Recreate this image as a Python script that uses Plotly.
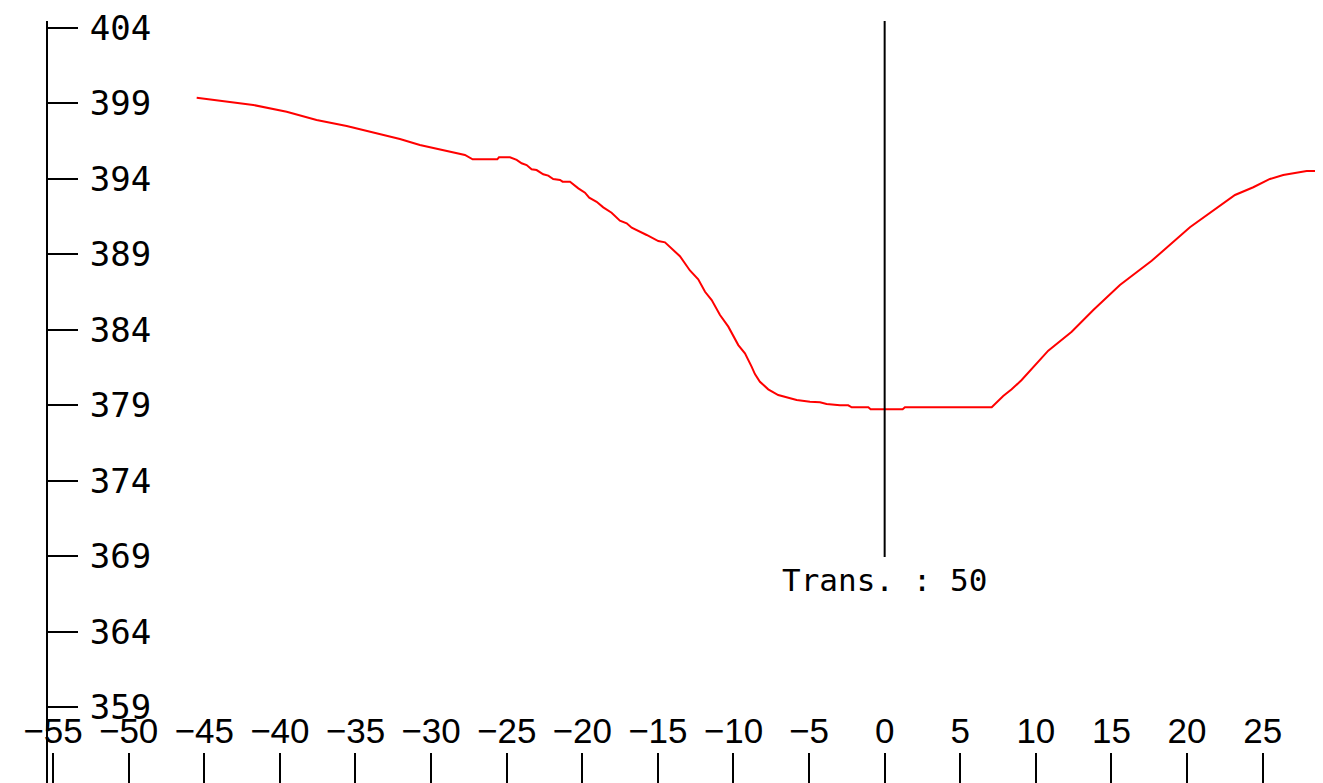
import plotly.graph_objects as go

# Profile data (offset vs elevation)
offsets = [-45.50, -41.76, -39.55, -37.57, -35.58, -33.38, -32.06, -30.74, -29.42, -28.53,
           -27.76, -27.25, -25.62, -25.51, -24.78, -24.34, -24.01, -23.68, -23.35, -23.02,
           -22.58, -22.25, -21.92, -21.47, -21.30, -20.81, -20.60, -20.26, -19.82, -19.54,
           -19.05, -18.61, -18.06, -17.51, -17.06, -16.73, -15.74, -14.97, -14.53, -14.20,
           -13.54, -12.88, -12.33, -11.88, -11.44, -10.89, -10.34, -9.68, -9.24, -8.80,
           -8.58, -8.25, -7.70, -7.04, -6.48, -5.82, -4.94, -4.28, -3.84, -2.96,
           -2.41, -2.18, -1.08, -0.93, 1.19, 1.34, 7.08, 7.84, 8.40, 9.06,
           10.82, 12.37, 13.80, 15.56, 17.66, 20.19, 23.17, 24.38, 25.48, 26.36,
           27.91, 30.00]
elevations = [399.37, 398.89, 398.44, 397.89, 397.50, 396.95, 396.64, 396.24, 395.95, 395.73,
              395.58, 395.29, 395.29, 395.42, 395.42, 395.25, 395.03, 394.91, 394.63, 394.58,
              394.30, 394.21, 393.99, 393.92, 393.81, 393.81, 393.64, 393.37, 393.08, 392.75,
              392.48, 392.11, 391.75, 391.23, 391.05, 390.76, 390.28, 389.88, 389.79, 389.50,
              388.87, 387.93, 387.34, 386.52, 385.97, 384.98, 384.21, 382.99, 382.44, 381.56,
              381.07, 380.56, 380.06, 379.68, 379.53, 379.35, 379.24, 379.20, 379.09, 379.00,
              379.00, 378.87, 378.87, 378.74, 378.74, 378.87, 378.87, 379.62, 380.06, 380.68,
              382.62, 383.87, 385.31, 386.97, 388.57, 390.79, 392.93, 393.44, 393.99, 394.25,
              394.52, 394.52]

x_ticks = [-55, -50, -45, -40, -35, -30, -25, -20, -15, -10, -5, 0, 5, 10, 15, 20, 25]
y_ticks = [359, 364, 369, 374, 379, 384, 389, 394, 399, 404]

marker_x = [0, 0]
marker_y = [368.95, 404.5]
marker_label = "Trans. : 50"

fig = go.Figure()
fig.add_trace(go.Scatter(x=offsets, y=elevations, mode="lines",
                         line=dict(color="#ff0000", width=2), hoverinfo="skip"))
fig.add_trace(go.Scatter(x=marker_x, y=marker_y, mode="lines",
                         line=dict(color="black", width=2), hoverinfo="skip"))
fig.add_annotation(x=0, y=367.4, text=marker_label, showarrow=False,
                   xanchor="center", yanchor="middle",
                   font=dict(family="DejaVu Sans Mono", size=31, color="black"))

# page body has an 8px margin: the figure is sized/offset to compensate
fig.update_layout(
    width=1315, height=775,
    margin=dict(l=39, r=0, t=13, b=0, pad=0),
    paper_bgcolor="white", plot_bgcolor="white",
    showlegend=False,
    xaxis=dict(range=[-55.40, 28.99], tickvals=x_ticks, side="top",
               anchor="free", position=0,
               ticks="outside", ticklen=30, tickwidth=2, tickcolor="black",
               ticklabelstandoff=-4, ticklabeloverflow="allow",
               showgrid=False, zeroline=False, showline=False,
               tickfont=dict(family="Liberation Sans", size=35, color="black")),
    yaxis=dict(range=[353.99, 404.45], tickvals=y_ticks, side="right",
               anchor="free", position=0,
               ticks="outside", ticklen=30, tickwidth=2, tickcolor="black",
               ticklabelstandoff=5, ticklabeloverflow="allow",
               showgrid=False, zeroline=False, showline=True, linewidth=2,
               linecolor="black",
               tickfont=dict(family="DejaVu Sans Mono", size=34, color="black")),
)

fig.write_html("out.html")
